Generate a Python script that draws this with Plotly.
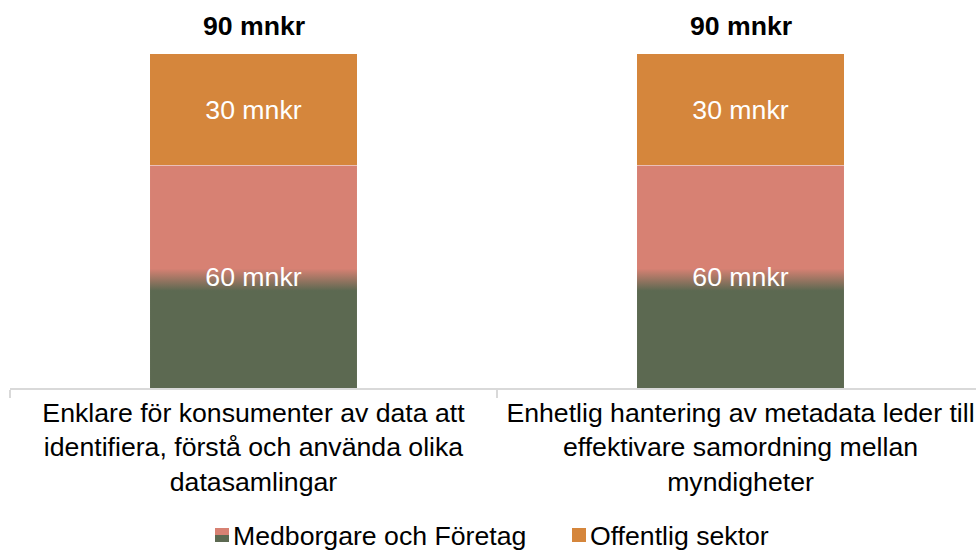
import base64
import plotly.graph_objects as go

categories = [
    "Enklare för konsumenter av data att<br>identifiera, förstå och använda olika<br>datasamlingar",
    "Enhetlig hantering av metadata leder till<br>effektivare samordning mellan<br>myndigheter",
]
series_names = ["Medborgare och Företag", "Offentlig sektor"]
medborgare = [60, 60]
offentlig = [30, 30]
totals = [a + b for a, b in zip(medborgare, offentlig)]
unit = "mnkr"

SALMON = "#D78173"
GREEN = "#5C6951"
ORANGE = "#D5863C"
FONT = "Liberation Sans, Arial, sans-serif"
BAR_W = 0.425
TRANSP = "rgba(0,0,0,0)"

# plot-area geometry (px) used to place legend swatch images
L, T, PW, PH = 10, 54, 966, 334

xpos = list(range(len(categories)))


def svg_uri(svg):
    return "data:image/svg+xml;base64," + base64.b64encode(svg.encode()).decode()


grad_src = svg_uri(
    '<svg xmlns="http://www.w3.org/2000/svg" width="100" height="100" viewBox="0 0 100 100" '
    'preserveAspectRatio="none"><defs><linearGradient id="g" x1="0" y1="0" x2="0" y2="1">'
    f'<stop offset="0.464" stop-color="{SALMON}"/><stop offset="0.563" stop-color="{GREEN}"/>'
    '</linearGradient></defs><rect width="100" height="100" fill="url(#g)"/></svg>'
)
split_swatch = svg_uri(
    '<svg xmlns="http://www.w3.org/2000/svg" width="14" height="14" viewBox="0 0 14 14" '
    f'preserveAspectRatio="none"><rect width="14" height="7" fill="{SALMON}"/>'
    f'<rect y="7" width="14" height="7" fill="{GREEN}"/></svg>'
)
orange_swatch = svg_uri(
    '<svg xmlns="http://www.w3.org/2000/svg" width="14" height="14" viewBox="0 0 14 14" '
    f'preserveAspectRatio="none"><rect width="14" height="14" fill="{ORANGE}"/></svg>'
)

fig = go.Figure()
fig.add_trace(go.Bar(
    x=xpos, y=medborgare, name=series_names[0], width=BAR_W,
    marker=dict(color=TRANSP, line=dict(width=0)),
    texttemplate="%{y} " + unit, textposition="inside", insidetextanchor="middle",
    textfont=dict(color="white", size=26.67, family=FONT), showlegend=False,
    hoverinfo="skip",
))
fig.add_trace(go.Bar(
    x=xpos, y=offentlig, name=series_names[1], width=BAR_W,
    marker=dict(color=ORANGE, line=dict(width=0)),
    texttemplate="%{y} " + unit, textposition="inside", insidetextanchor="middle",
    textfont=dict(color="white", size=26.67, family=FONT), showlegend=False,
))
# legend entries (swatches drawn as images below)
for nm in series_names:
    fig.add_trace(go.Bar(x=[None], y=[None], name=nm,
                         marker=dict(color=TRANSP, line=dict(width=0))))

images = []
for i, v in zip(xpos, medborgare):
    images.append(dict(
        source=grad_src, xref="x", yref="y", x=i - BAR_W / 2, y=v,
        sizex=BAR_W, sizey=v, sizing="stretch", xanchor="left", yanchor="top",
        layer="below",
    ))
for src, px in [(split_swatch, 215), (orange_swatch, 572)]:
    images.append(dict(
        source=src, xref="paper", yref="paper",
        x=(px - L) / PW, y=(T + PH - 528) / PH, sizex=14 / PW, sizey=14 / PH,
        sizing="stretch", xanchor="left", yanchor="top", layer="above",
    ))

annotations = []
for i, t in zip(xpos, totals):
    annotations.append(dict(
        x=i, y=t, xref="x", yref="y", text=f"<b>{t} {unit}</b>", showarrow=False,
        yanchor="bottom", yshift=11, font=dict(size=26.67, family=FONT, color="black"),
    ))

fig.update_layout(
    width=976, height=550,
    margin=dict(l=L, r=0, t=T, b=550 - T - PH, autoexpand=False),
    barmode="stack",
    paper_bgcolor="white", plot_bgcolor="white",
    images=images, annotations=annotations,
    showlegend=True,
    legend=dict(orientation="h", x=0.1894, xanchor="left", y=-0.44, yanchor="middle",
                entrywidth=312, entrywidthmode="pixels", bgcolor=TRANSP,
                traceorder="normal", font=dict(size=26.67, family=FONT, color="black")),
    font=dict(family=FONT, color="black"),
    xaxis=dict(
        range=[-0.5, -0.5 + PW / 487], tickvals=xpos, ticktext=categories,
        ticks="", showgrid=False, zeroline=False, automargin=False,
        showline=True, linecolor="#D9D9D9", linewidth=1.5,
        tickfont=dict(size=26.67, family=FONT, color="black"),
        minor=dict(tickvals=[-0.5, 0.5, 1.5], ticks="outside", ticklen=8,
                   tickcolor="#D9D9D9", tickwidth=1.5, showgrid=False),
        fixedrange=True,
    ),
    yaxis=dict(range=[0, 90], visible=False, fixedrange=True, automargin=False),
)

fig.write_html("out.html")
